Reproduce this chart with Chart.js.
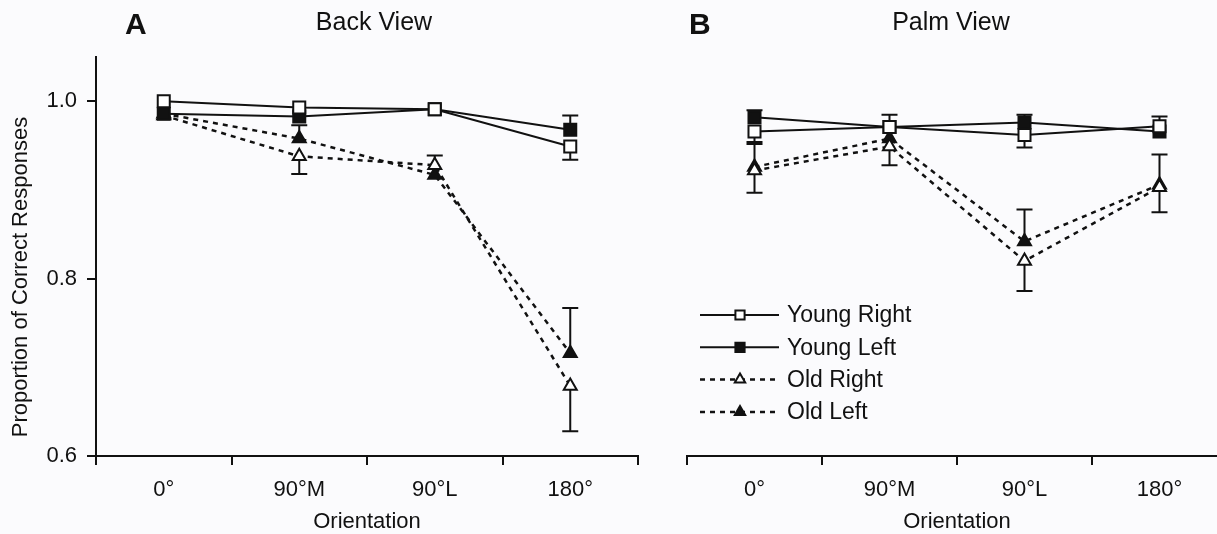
<!DOCTYPE html>
<html>
<head>
<meta charset="utf-8">
<script src="https://cdn.jsdelivr.net/npm/chart.js@4.4.1/dist/chart.umd.min.js"></script>
<style>
  html, body { margin: 0; padding: 0; background: #fbfbfd; overflow: hidden; }
  #marco { position: relative; width: 1217px; height: 534px; overflow: hidden; }
  #panelA { position: absolute; left: 0; top: 0; }
  #panelB { position: absolute; left: 650px; top: 0; }
</style>
</head>
<body>
<div id="marco">
  <canvas id="panelA" width="650" height="534"></canvas>
  <canvas id="panelB" width="600" height="534"></canvas>
</div>
<script>
// Categorías y marcas del eje
const orientaciones = ['0°', '90°M', '90°L', '180°'];
const yTicks = [0.6, 0.8, 1.0];
const nombres = ['Young Right', 'Young Left', 'Old Right', 'Old Left'];

// Panel A: Back View
const backYoungRight = [1.000, 0.993, 0.991, 0.949];
const backYoungLeft  = [0.986, 0.983, 0.991, 0.968];
const backOldRight   = [0.984, 0.938, 0.928, 0.679];
const backOldLeft    = [0.986, 0.958, 0.917, 0.716];
// Barras de error: positivo = hacia arriba, negativo = hacia abajo, 0 = sin barra
const backYoungRightErr = [0, 0, 0, -0.015];
const backYoungLeftErr  = [0, 0, 0, 0.016];
const backOldRightErr   = [0, -0.020, 0.011, -0.051];
const backOldLeftErr    = [0, 0.015, 0, 0.051];

// Panel B: Palm View
const palmYoungRight = [0.966, 0.971, 0.962, 0.972];
const palmYoungLeft  = [0.982, 0.971, 0.976, 0.966];
const palmOldRight   = [0.922, 0.949, 0.820, 0.903];
const palmOldLeft    = [0.926, 0.958, 0.842, 0.906];
const palmYoungRightErr = [-0.012, 0, -0.014, 0.011];
const palmYoungLeftErr  = [0.008, 0.014, 0.009, 0];
const palmOldRightErr   = [-0.025, -0.021, -0.034, -0.028];
const palmOldLeftErr    = [0.026, 0, 0.036, 0.034];

const tinta = '#111';
const familia = '"Liberation Sans", Arial, sans-serif';

function fuente(tam, peso) {
    return { family: familia, size: tam, weight: peso || 'normal' };
}

// Dibuja las barras de error debajo de los marcadores
const barrasError = {
    id: 'barrasError',
    beforeDatasetsDraw(chart) {
        const ctx = chart.ctx;
        const escalaY = chart.scales.y;
        ctx.save();
        ctx.strokeStyle = tinta;
        ctx.lineWidth = 2;
        chart.data.datasets.forEach((ds, d) => {
            const meta = chart.getDatasetMeta(d);
            ds.errores.forEach((e, i) => {
                if (!e) return;
                const p = meta.data[i];
                const yFin = escalaY.getPixelForValue(ds.data[i] + e);
                ctx.beginPath();
                ctx.moveTo(p.x, p.y);
                ctx.lineTo(p.x, yFin);
                ctx.moveTo(p.x - 8, yFin);
                ctx.lineTo(p.x + 8, yFin);
                ctx.stroke();
            });
        });
        ctx.restore();
    }
};

// Letra del panel, título y título del eje Y
const tituloPanel = {
    id: 'tituloPanel',
    afterDraw(chart, args, opts) {
        const ctx = chart.ctx;
        ctx.save();
        ctx.fillStyle = tinta;
        ctx.textBaseline = 'middle';
        ctx.textAlign = 'left';
        ctx.font = 'bold 30px ' + familia;
        ctx.fillText(opts.letra, opts.letraX, 26);
        ctx.textAlign = 'center';
        ctx.font = '25px ' + familia;
        ctx.fillText(opts.titulo, opts.tituloX, 23);
        if (opts.ejeY) {
            ctx.font = '22px ' + familia;
            ctx.translate(21, 277);
            ctx.rotate(-Math.PI / 2);
            ctx.fillText(opts.ejeY, 0, 0);
        }
        ctx.restore();
    }
};

// Leyenda con línea y marcador en el centro
const leyenda = {
    id: 'leyenda',
    afterDraw(chart, args, opts) {
        if (!opts.mostrar) return;
        const ctx = chart.ctx;
        chart.data.datasets.forEach((ds, i) => {
            const y = opts.y + i * opts.paso;
            ctx.save();
            ctx.strokeStyle = tinta;
            ctx.lineWidth = ds.borderWidth;
            ctx.setLineDash(ds.borderDash);
            ctx.beginPath();
            ctx.moveTo(opts.x, y);
            ctx.lineTo(opts.x + 79, y);
            ctx.stroke();
            ctx.setLineDash([]);
            ctx.fillStyle = ds.pointBackgroundColor;
            ctx.strokeStyle = tinta;
            ctx.lineWidth = 2;
            Chart.helpers.drawPoint(ctx, {
                pointStyle: ds.pointStyle,
                radius: ds.pointStyle === 'rect' ? 6.5 : 6,
                rotation: 0,
                borderWidth: 2
            }, opts.x + 40, y);
            ctx.fillStyle = tinta;
            ctx.font = '23px ' + familia;
            ctx.textAlign = 'left';
            ctx.textBaseline = 'middle';
            ctx.fillText(ds.label, opts.x + 87, y + 1);
            ctx.restore();
        });
    }
};

function crearDatasets(valores, errores) {
    return nombres.map((nombre, i) => ({
        label: nombre,
        data: valores[i],
        errores: errores[i],
        borderColor: tinta,
        borderWidth: i < 2 ? 2 : 2.5,
        borderDash: i < 2 ? [] : [5, 5],
        pointStyle: i < 2 ? 'rect' : 'triangle',
        pointRadius: i < 2 ? 8.5 : 7.5,
        pointBorderWidth: 2,
        pointBackgroundColor: i % 2 === 0 ? '#ffffff' : tinta,
        pointBorderColor: tinta,
        tension: 0,
        clip: false
    }));
}

function crearEscalas(mostrarY) {
    return {
        x: {
            type: 'category',
            offset: true,
            grid: { display: true, offset: true, drawOnChartArea: false, drawTicks: true, tickLength: 9, color: tinta, lineWidth: 2 },
            border: { display: true, color: tinta, width: 2 },
            ticks: { color: tinta, font: fuente(22), padding: 12, maxRotation: 0 },
            title: { display: true, text: 'Orientation', color: tinta, font: fuente(22), padding: { top: 0, bottom: -1 } },
            afterFit(escala) { escala.height = 78; }
        },
        y: {
            display: mostrarY,
            min: 0.6,
            max: 1.05,
            afterBuildTicks(escala) { escala.ticks = yTicks.map(v => ({ value: v })); },
            grid: { display: true, drawOnChartArea: false, drawTicks: true, tickLength: 9, color: tinta, lineWidth: 2 },
            border: { display: true, color: tinta, width: 2 },
            ticks: { color: tinta, font: fuente(22), padding: 10, callback: v => v.toFixed(1) },
            afterFit(escala) { escala.width = mostrarY ? 96 : 0; }
        }
    };
}

function crearGrafico(id, valores, errores, mostrarY, padding, panel, leyendaOpts) {
    const ctx = document.getElementById(id).getContext('2d');
    return new Chart(ctx, {
        type: 'line',
        data: { labels: orientaciones, datasets: crearDatasets(valores, errores) },
        options: {
            responsive: false,
            animation: false,
            layout: { padding: padding },
            scales: crearEscalas(mostrarY),
            plugins: {
                legend: { display: false },
                tooltip: { enabled: false },
                tituloPanel: panel,
                leyenda: leyendaOpts
            }
        },
        plugins: [barrasError, tituloPanel, leyenda]
    });
}

crearGrafico('panelA',
    [backYoungRight, backYoungLeft, backOldRight, backOldLeft],
    [backYoungRightErr, backYoungLeftErr, backOldRightErr, backOldLeftErr],
    true,
    { top: 57, left: 0, right: 12, bottom: 0 },
    { letra: 'A', letraX: 125, titulo: 'Back View', tituloX: 374, ejeY: 'Proportion of Correct Responses' },
    { mostrar: false });

crearGrafico('panelB',
    [palmYoungRight, palmYoungLeft, palmOldRight, palmOldLeft],
    [palmYoungRightErr, palmYoungLeftErr, palmOldRightErr, palmOldLeftErr],
    false,
    { top: 57, left: 37, right: 23, bottom: 0 },
    { letra: 'B', letraX: 39, titulo: 'Palm View', tituloX: 301 },
    { mostrar: true, x: 50, y: 315, paso: 32.3 });
</script>
</body>
</html>
